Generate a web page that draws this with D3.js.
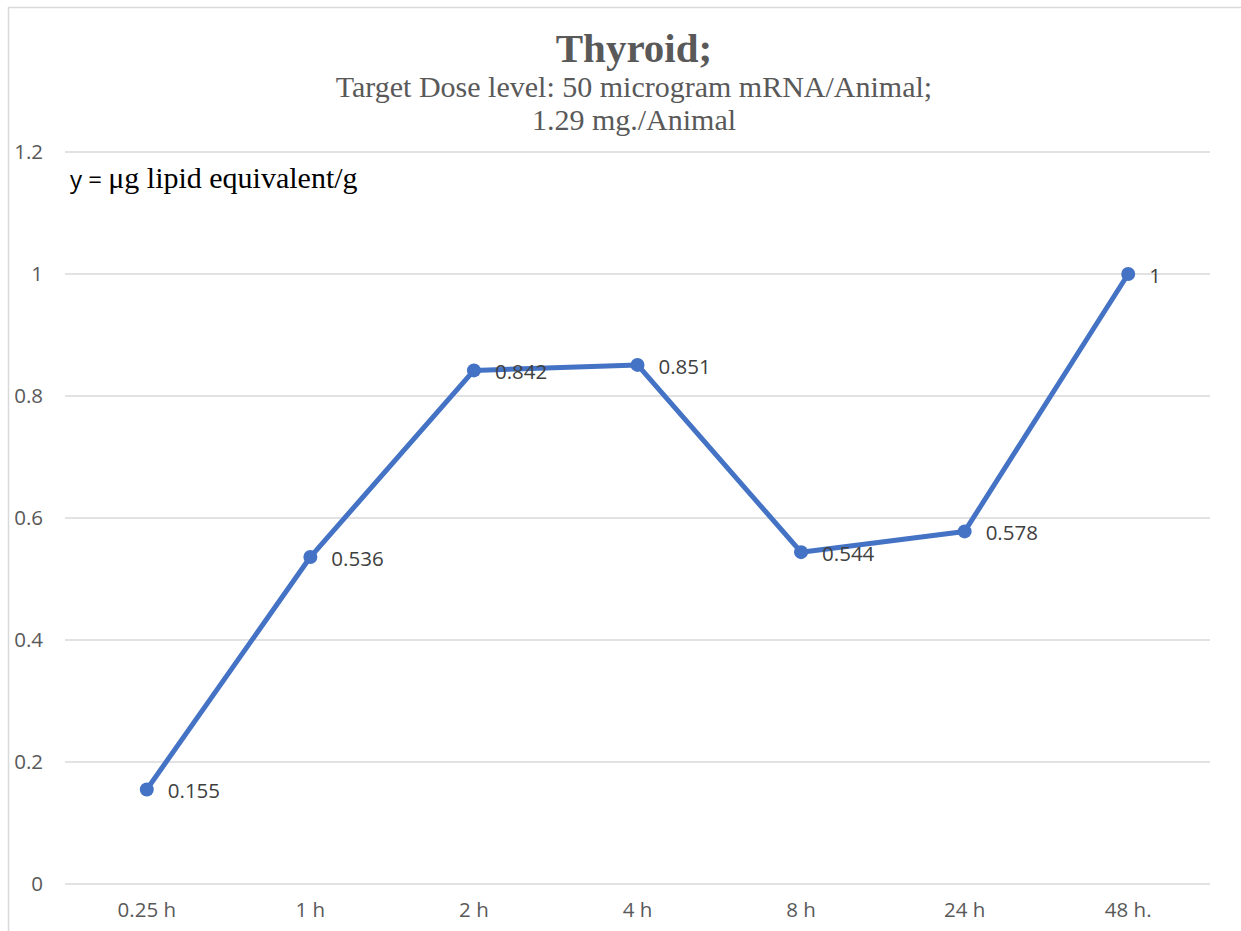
<!DOCTYPE html>
<html>
<head>
<meta charset="utf-8">
<script src="https://cdn.jsdelivr.net/npm/d3@7"></script>
<style>
  body { margin: 0; background: #fff; }
  svg { display: block; }
  .tick text { font-family: 'Open Sans', sans-serif; }
</style>
</head>
<body>
<div id="chart"></div>
<script>
var categories = ['0.25 h', '1 h', '2 h', '4 h', '8 h', '24 h', '48 h.']
var values = [0.155, 0.536, 0.842, 0.851, 0.544, 0.578, 1]
var yTicks = [0, 0.2, 0.4, 0.6, 0.8, 1, 1.2]
var title = 'Thyroid;'
var subtitle = ['Target Dose level: 50 microgram mRNA/Animal;', '1.29 mg./Animal']

var W = 1241, H = 931
var margin = {left: 65, right: 31, top: 152, bottom: 47}

var svg = d3.select('#chart').append('svg').attr('width', W).attr('height', H)

// outer chart frame (runs off the right and bottom of the window)
svg.append('rect')
  .attr('x', 8.5).attr('y', 7.5).attr('width', W + 20).attr('height', H + 20)
  .attr('fill', 'none').attr('stroke', '#d9d9d9').attr('stroke-width', 1.5)

var x = d3.scaleBand().domain(categories).range([margin.left, W - margin.right])
var y = d3.scaleLinear().domain([0, 1.2]).range([H - margin.bottom, margin.top])

// gridlines
svg.append('g').selectAll('line').data(yTicks).join('line')
  .attr('x1', margin.left).attr('x2', W - margin.right)
  .attr('y1', d => y(d)).attr('y2', d => y(d))
  .attr('stroke', '#d9d9d9').attr('stroke-width', 1.5)

// y axis labels
var yAxis = svg.append('g')
  .attr('transform', 'translate(' + margin.left + ',0)')
  .call(d3.axisLeft(y).tickValues(yTicks).tickSize(0).tickPadding(22).tickFormat(d3.format('')))
yAxis.select('.domain').remove()
yAxis.selectAll('text').attr('fill', '#595959').style('font-size', '20.5px')

// x axis labels
var xAxis = svg.append('g')
  .attr('transform', 'translate(0,' + (H - margin.bottom) + ')')
  .call(d3.axisBottom(x).tickSize(0).tickPadding(18))
xAxis.select('.domain').remove()
xAxis.selectAll('text').attr('fill', '#595959').style('font-size', '20.5px')

// title
svg.append('text')
  .attr('x', 634).attr('y', 62).attr('text-anchor', 'middle')
  .attr('font-family', 'Liberation Serif, serif').attr('font-weight', 'bold')
  .attr('font-size', 41).attr('fill', '#595959').text(title)

svg.append('g').selectAll('text').data(subtitle).join('text')
  .attr('x', 634).attr('y', (d, i) => 97 + i * 33).attr('text-anchor', 'middle')
  .attr('font-family', 'Liberation Serif, serif')
  .attr('font-size', 30).attr('fill', '#595959').text(d => d)

// unit note
var note = svg.append('text').attr('x', 70).attr('y', 188).attr('fill', '#000').attr('font-size', 30)
note.append('tspan').attr('font-family', 'Open Sans, sans-serif').attr('font-size', 24).text('y = ')
note.append('tspan').attr('font-family', 'Liberation Serif, serif').text('\u03bcg lipid equivalent/g')

var pts = categories.map((c, i) => ({cat: c, v: values[i]}))
var cx = d => x(d.cat) + x.bandwidth() / 2

var line = d3.line().x(cx).y(d => y(d.v))

svg.append('path').datum(pts).attr('d', line)
  .attr('fill', 'none').attr('stroke', '#4472c4').attr('stroke-width', 5)
  .attr('stroke-linejoin', 'round')

svg.append('g').selectAll('circle').data(pts).join('circle')
  .attr('cx', cx).attr('cy', d => y(d.v)).attr('r', 7)
  .attr('fill', '#4472c4')

svg.append('g').selectAll('text').data(pts).join('text')
  .attr('x', d => cx(d) + 21).attr('y', d => y(d.v) + 9)
  .attr('font-family', 'Open Sans, sans-serif').attr('font-size', 20.5)
  .attr('fill', '#404040').text(d => d.v)
</script>
</body>
</html>
